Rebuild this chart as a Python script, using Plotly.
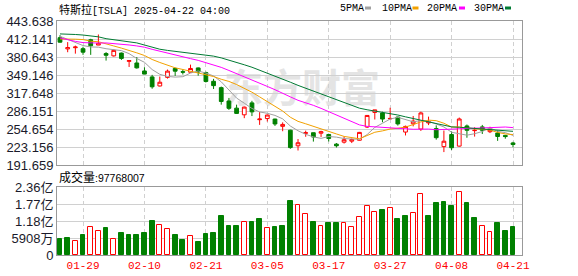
import plotly.graph_objects as go

# ---------------- data ----------------
dates = ["01-24","01-27","01-28","01-29","01-30","01-31","02-03","02-04","02-05","02-06",
         "02-07","02-10","02-11","02-12","02-13","02-14","02-18","02-19","02-20","02-21",
         "02-24","02-25","02-26","02-27","02-28","03-03","03-04","03-05","03-06","03-07",
         "03-10","03-11","03-12","03-13","03-14","03-17","03-18","03-19","03-20","03-21",
         "03-24","03-25","03-26","03-27","03-28","03-31","04-01","04-02","04-03","04-04",
         "04-07","04-08","04-09","04-10","04-11","04-14","04-15","04-16","04-17","04-21"]
opens = [414.45,394.80,396.91,395.21,410.78,401.53,386.68,382.63,387.51,373.03,
         370.19,356.21,345.80,329.94,345.00,360.62,355.01,354.00,361.51,353.44,
         338.14,327.02,303.71,291.16,279.50,300.34,270.93,272.92,272.06,259.32,
         252.54,225.31,247.22,248.13,247.31,245.06,228.16,231.61,233.35,234.99,
         258.08,283.60,282.66,272.48,275.58,249.31,263.80,254.60,265.29,255.38,
         223.78,245.00,224.69,260.00,251.84,258.36,249.91,247.61,243.47,230.26]
highs = [418.88,406.69,400.59,398.59,412.50,419.99,389.17,394.00,388.39,375.40,
         380.55,362.70,349.37,346.40,358.69,362.00,359.10,367.34,362.30,354.98,
         342.40,328.89,309.00,297.23,293.88,303.94,284.35,279.55,272.65,266.25,
         253.37,237.06,251.84,248.29,251.58,245.40,230.10,241.41,238.00,249.52,
         278.64,288.20,284.90,291.85,276.10,260.56,277.45,284.99,276.30,261.00,
         252.00,250.44,274.69,262.49,257.74,261.80,258.59,251.97,244.34,232.21]
lows = [405.78,389.00,386.50,384.48,384.41,401.34,374.36,381.40,375.53,363.18,
        360.34,350.51,325.10,329.12,342.85,347.50,350.02,353.67,348.00,336.00,
        324.70,297.25,288.04,280.88,273.60,277.30,261.84,267.71,260.02,250.73,
        220.00,217.02,241.10,232.60,240.73,232.80,222.28,229.20,230.05,234.55,
        256.33,271.28,266.51,271.82,260.57,243.36,259.25,251.27,261.51,236.00,
        214.25,217.80,223.88,239.33,241.36,245.93,247.54,233.89,237.68,222.79]
closes = [406.58,397.15,398.09,389.10,400.28,404.60,383.68,392.21,378.17,374.32,
          361.62,350.73,328.50,336.51,355.94,355.84,354.11,360.56,354.40,337.80,
          330.53,302.80,290.80,281.95,292.98,284.65,272.04,279.10,263.45,262.67,
          222.15,230.58,248.09,240.68,249.98,238.01,225.31,235.86,236.26,248.71,
          278.39,288.14,272.06,273.13,263.55,259.16,268.46,282.76,267.28,239.43,
          233.29,221.86,272.20,252.40,252.31,252.35,254.11,241.55,241.37,227.50]
volumes = [56.4e6,58.1e6,48.9e6,68.0e6,98.1e6,83.6e6,93.7e6,57.1e6,75.0e6,68.0e6,
           70.3e6,77.5e6,118.5e6,105.4e6,89.4e6,68.0e6,51.6e6,67.1e6,45.9e6,74.1e6,
           76.1e6,134.2e6,100.1e6,101.7e6,115.7e6,115.6e6,126.7e6,94.0e6,98.5e6,102.4e6,
           189.1e6,174.9e6,142.2e6,114.8e6,100.2e6,111.9e6,111.5e6,111.9e6,99.0e6,132.7e6,
           169.1e6,150.4e6,156.9e6,162.6e6,123.8e6,134.0e6,146.5e6,212.8e6,136.2e6,181.2e6,
           183.2e6,171.6e6,219.4e6,181.7e6,128.9e6,100.1e6,79.6e6,112.4e6,83.4e6,97.768007e6]
# closes of the 29 sessions before 01-24 (for the moving averages)
prior_closes = [400.99,424.77,418.10,436.23,463.02,479.86,440.13,436.17,421.06,430.60,
                462.28,454.13,431.66,417.41,403.84,379.28,410.44,411.05,394.36,394.94,
                394.74,403.31,396.36,428.22,413.82,426.50,424.07,415.11,412.38]

label_dates = ["01-29","02-10","02-21","03-05","03-17","03-27","04-08","04-21"]
price_ticks = ["191.659","223.156","254.654","286.151","317.648","349.146","380.643","412.141","443.638"]
vol_tickvals = [0, 59080000, 118160000, 177240000, 236320000]
vol_ticktext = ["0", "5908万", "1.18亿", "1.77亿", "2.36亿"]
ma_periods = [5, 10, 20, 30]
ma_names = ["5PMA", "10PMA", "20PMA", "30PMA"]
ma_colors = ["#a0a0a0", "#f2a100", "#ff00ff", "#007a33"]
last_volume_text = "97768007"

RED = "#ff0000"
GREEN = "#008000"

# ---------------- derived ----------------
x = list(range(len(dates)))
all_closes = prior_closes + closes
off = len(prior_closes)

def ma(n):
    out = []
    for i in range(len(closes)):
        seg = all_closes[off + i - n + 1: off + i + 1]
        out.append(sum(seg) / len(seg))
    return out

prev = [prior_closes[-1]] + closes[:-1]
vol_up = [c >= p for c, p in zip(closes, prev)]

label_idx = [dates.index(d) for d in label_dates]
pt_vals = [float(t) for t in price_ticks]

# ---------------- layout geometry ----------------
W, H = 578, 276
ML, MR, MT, MB = 57, 56, 21, 21
PW = W - ML - MR
PH = H - MT - MB
step = 453 / 59.0
x0 = -3 / step
x1 = (len(dates) - 1) + 9 / step

def py(pix):   # pixel from top -> paper y
    return (H - MB - pix) / PH

def px(pix):   # pixel from left -> paper x
    return (pix - ML) / PW

fig = go.Figure()

# moving averages
for n, name, col in zip(ma_periods, ma_names, ma_colors):
    fig.add_trace(go.Scatter(x=x, y=ma(n), mode="lines", name=name,
                             line=dict(color=col, width=1), xaxis="x", yaxis="y",
                             hoverinfo="skip"))

# candles
fig.add_trace(go.Candlestick(
    x=x, open=opens, high=highs, low=lows, close=closes,
    increasing=dict(line=dict(color=RED, width=1), fillcolor="white"),
    decreasing=dict(line=dict(color=GREEN, width=1), fillcolor=GREEN),
    whiskerwidth=0, xaxis="x", yaxis="y", hoverinfo="skip"))

# volume bars
fig.add_trace(go.Bar(
    x=x, y=volumes, width=0.62,
    marker=dict(color=["white" if u else GREEN for u in vol_up],
                line=dict(color=[RED if u else GREEN for u in vol_up], width=1)),
    xaxis="x2", yaxis="y2", hoverinfo="skip"))

grid = "#d0d0d0"
border = "#999999"
tickfont = dict(family="Liberation Sans, Arial, Noto Sans CJK SC", size=13, color="#1a1a2a")

fig.update_layout(
    width=W, height=H, margin=dict(l=ML, r=MR, t=MT, b=MB, autoexpand=False),
    paper_bgcolor="white", plot_bgcolor="white", showlegend=False,
    bargap=0, boxgap=0.3,
    xaxis=dict(domain=[0, 1], anchor="y", range=[x0, x1], tickvals=label_idx,
               showticklabels=False, ticks="", showgrid=True, gridcolor=grid,
               griddash="4px,3px", gridwidth=1, zeroline=False, automargin=False,
               showline=True, mirror=True, linecolor=border, linewidth=1,
               rangeslider=dict(visible=False), fixedrange=True),
    yaxis=dict(domain=[py(165), 1], anchor="x", range=[pt_vals[0], pt_vals[-1]],
               tickvals=pt_vals, ticktext=price_ticks, ticks="", tickfont=tickfont,
               showgrid=True, gridcolor=grid, gridwidth=1, zeroline=False, automargin=False,
               showline=True, mirror=True, linecolor=border, linewidth=1),
    xaxis2=dict(domain=[0, 1], anchor="y2", range=[x0, x1], matches="x",
                tickvals=label_idx, ticktext=label_dates, ticks="", automargin=False,
                tickfont=dict(family="Liberation Mono, DejaVu Sans Mono", size=11, color=RED),
                showgrid=True, gridcolor=grid, griddash="4px,3px", gridwidth=1,
                zeroline=False, showline=True, mirror=True, linecolor=border, linewidth=1),
    yaxis2=dict(domain=[0, py(187)], anchor="x2", range=[0, vol_tickvals[-1]],
                tickvals=vol_tickvals, ticktext=vol_ticktext, ticks="", tickfont=tickfont,
                showgrid=True, gridcolor=grid, gridwidth=1, zeroline=False, automargin=False,
                showline=True, mirror=True, linecolor=border, linewidth=1),
)

annotations = []
shapes = []

# title
annotations.append(dict(
    xref="paper", yref="paper", x=0, y=py(9.5), xanchor="left", yanchor="middle",
    showarrow=False,
    text="<span style=\"font-family:Noto Sans CJK SC;font-size:11px\">特斯拉</span>[TSLA] 2025-04-22 04:00",
    font=dict(family="Liberation Mono, DejaVu Sans Mono", size=10, color="#000000")))

# legend
leg_text_x = [338, 380, 425, 471.5]
leg_sq_x = [365, 412.5, 459, 505]
for name, col, tx, sx in zip(ma_names, ma_colors, leg_text_x, leg_sq_x):
    annotations.append(dict(
        xref="paper", yref="paper", x=px(tx), y=py(8.5), xanchor="left", yanchor="middle",
        showarrow=False, text=name,
        font=dict(family="Liberation Mono, DejaVu Sans Mono", size=10, color="#000000")))
    shapes.append(dict(type="rect", xref="paper", yref="paper",
                       x0=px(sx), x1=px(sx + 6), y0=py(9.5), y1=py(6.5),
                       fillcolor=col, line=dict(width=0)))

# volume caption
annotations.append(dict(
    xref="paper", yref="paper", x=0, y=py(176.5), xanchor="left", yanchor="middle",
    showarrow=False,
    text="<span style=\"font-family:Noto Sans CJK SC;font-size:12px\">成交量</span>:" + last_volume_text,
    font=dict(family="Liberation Sans, Arial", size=10.5, color="#000000")))

# watermark
shapes.append(dict(type="rect", xref="paper", yref="paper", layer="below",
                   x0=px(214), x1=px(390), y0=py(110), y1=py(72),
                   fillcolor="rgba(0,0,0,0)", line=dict(width=0),
                   label=dict(text="东方财富",
                              font=dict(family="Noto Sans CJK SC", size=39, color="#e4e4e4",
                                        weight="bold"),
                              textposition="middle center")))

fig.update_layout(annotations=annotations, shapes=shapes)

fig.write_html("out.html")
